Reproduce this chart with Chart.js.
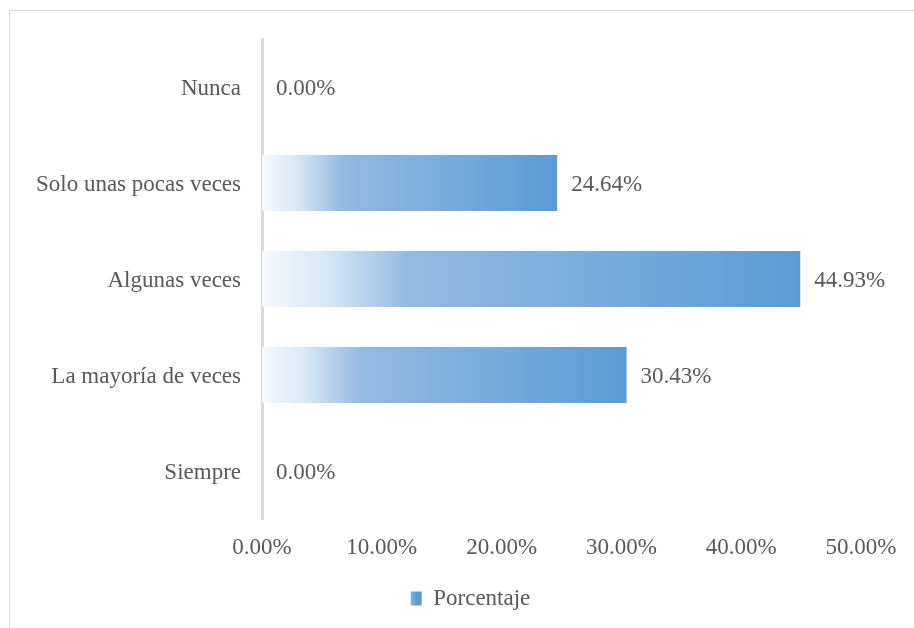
<!DOCTYPE html>
<html>
<head>
<meta charset="utf-8">
<style>
  html, body { margin: 0; padding: 0; background: #fff; }
  #wrap { position: relative; width: 914px; height: 628px; overflow: hidden; }
  #frame { position: absolute; left: 9px; top: 10px; width: 920px; height: 640px; border: 1px solid #d9d9d9; box-sizing: border-box; }
  canvas { position: absolute; left: 0; top: 0; }
</style>
<script src="https://cdn.jsdelivr.net/npm/chart.js@4/dist/chart.umd.min.js"></script>
</head>
<body>
<div id="wrap">
  <div id="frame"></div>
  <canvas id="chart" width="914" height="628"></canvas>
</div>
<script>
// respuestas y porcentajes
const categorias = ['Nunca', 'Solo unas pocas veces', 'Algunas veces', 'La mayoría de veces', 'Siempre'];
const porcentajes = [0.00, 24.64, 44.93, 30.43, 0.00];
const ticksX = [0, 10, 20, 30, 40, 50];
const serie = 'Porcentaje';

const FONT = '"Liberation Serif", "Times New Roman", serif';
const TAM = 23;
const TEXTO = '#595959';
const AZUL = '#5b9bd5';

// degradado claro -> azul a lo largo de cada barra
function degradado(ctx, x0, x1) {
  const g = ctx.createLinearGradient(x0, 0, x1, 0);
  g.addColorStop(0, '#f6f9fd');
  g.addColorStop(0.12, '#d9e7f4');
  g.addColorStop(0.27, '#93bbe2');
  g.addColorStop(1, AZUL);
  return g;
}

function fondoBarra(c) {
  const chart = c.chart;
  const xs = chart.scales && chart.scales.x;
  if (!chart.chartArea || !xs || c.raw == null) return AZUL;
  const x0 = xs.getPixelForValue(0);
  const x1 = xs.getPixelForValue(c.raw);
  if (x1 - x0 < 1) return AZUL;
  return degradado(chart.ctx, x0, x1);
}

// etiquetas de valor a la derecha de cada barra
const etiquetas = {
  id: 'etiquetas',
  afterDatasetsDraw(chart) {
    const ctx = chart.ctx;
    const meta = chart.getDatasetMeta(0);
    ctx.save();
    ctx.font = TAM + 'px ' + FONT;
    ctx.fillStyle = TEXTO;
    ctx.textAlign = 'left';
    ctx.textBaseline = 'middle';
    meta.data.forEach((el, i) => {
      ctx.fillText(porcentajes[i].toFixed(2) + '%', el.x + 14, el.y + 2);
    });
    ctx.restore();
  }
};

// leyenda: algo desplazada a la derecha y con el cuadro en degradado
const leyendaDegradado = {
  id: 'leyendaDegradado',
  afterLayout(chart) {
    const lg = chart.legend;
    if (!lg) return;
    lg.left += 40;
    lg.right += 40;
  },
  beforeDraw(chart) {
    const lg = chart.legend;
    if (!lg || !lg.legendItems || !lg.legendItems.length) return;
    const x = lg.left + (lg.right - lg.left - lg.lineWidths[0]) / 2;
    const bw = lg.options.labels.boxWidth;
    lg.legendItems[0].fillStyle = degradado(chart.ctx, x, x + bw);
  }
};

new Chart(document.getElementById('chart').getContext('2d'), {
  type: 'bar',
  data: {
    labels: categorias,
    datasets: [{
      label: serie,
      data: porcentajes,
      backgroundColor: fondoBarra,
      borderWidth: 0,
      barPercentage: 0.583,
      categoryPercentage: 1
    }]
  },
  options: {
    indexAxis: 'y',
    responsive: false,
    animation: false,
    devicePixelRatio: 1,
    layout: { padding: { top: 39, right: 53, bottom: 8, left: 0 } },
    scales: {
      x: {
        min: 0,
        max: 50,
        afterBuildTicks: s => { s.ticks = ticksX.map(v => ({ value: v })); },
        afterFit: s => { s.height = 58; },
        grid: { display: false, drawTicks: false },
        border: { display: false },
        ticks: {
          padding: 15,
          color: TEXTO,
          font: { family: FONT, size: TAM },
          callback: v => Number(v).toFixed(2) + '%'
        }
      },
      y: {
        afterFit: s => { s.width = 262; },
        grid: { display: false, drawTicks: false },
        border: { display: true, color: '#d9d9d9', width: 3 },
        ticks: {
          padding: 21,
          labelOffset: 2,
          color: TEXTO,
          font: { family: FONT, size: TAM }
        }
      }
    },
    plugins: {
      legend: {
        position: 'bottom',
        labels: {
          boxWidth: 11,
          boxHeight: 14,
          padding: 10,
          color: TEXTO,
          font: { family: FONT, size: TAM }
        }
      },
      tooltip: { enabled: false }
    }
  },
  plugins: [etiquetas, leyendaDegradado]
});
</script>
</body>
</html>
